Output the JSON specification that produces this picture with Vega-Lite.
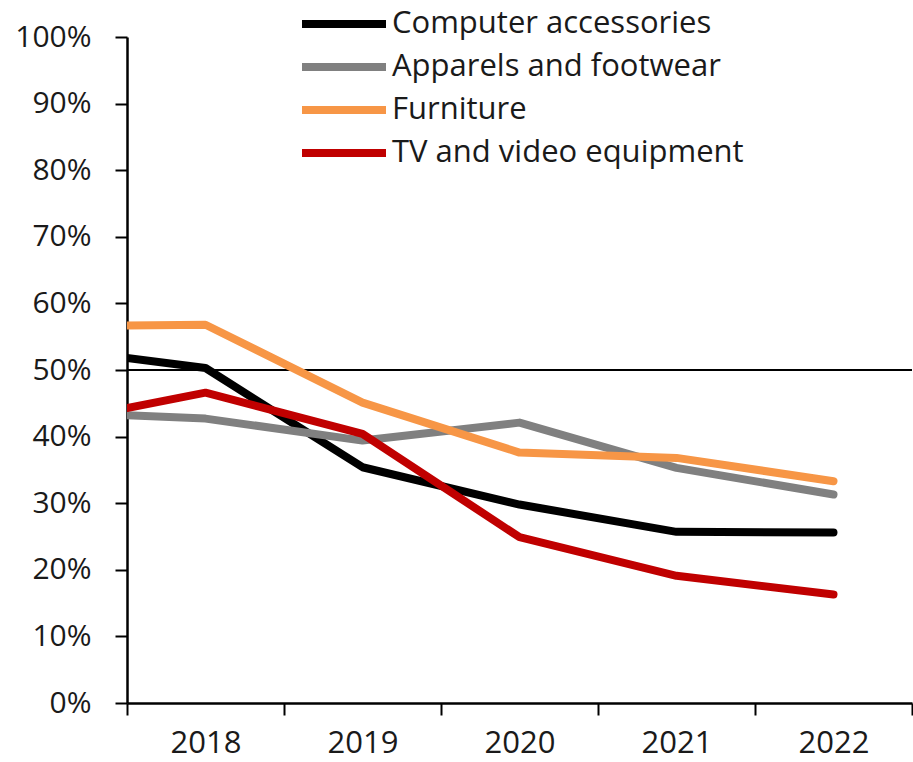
{
  "$schema": "https://vega.github.io/schema/vega-lite/v6.json",
  "width": 785,
  "height": 666,
  "autosize": {"type": "none"},
  "padding": {"left": 127, "top": 37, "right": 1, "bottom": 59},
  "background": "white",
  "config": {
    "view": {"stroke": null},
    "font": "Open Sans",
    "axis": {"grid": false, "domainColor": "black", "tickColor": "black", "labelColor": "#1a1a1a", "labelFont": "Open Sans", "title": null}
  },
  "data": {
    "values": [
      {"year": 2017.5, "series": "Computer accessories", "v": 0.518},
      {"year": 2018, "series": "Computer accessories", "v": 0.503},
      {"year": 2019, "series": "Computer accessories", "v": 0.354},
      {"year": 2020, "series": "Computer accessories", "v": 0.298},
      {"year": 2021, "series": "Computer accessories", "v": 0.257},
      {"year": 2022, "series": "Computer accessories", "v": 0.256},
      {"year": 2017.5, "series": "Apparels and footwear", "v": 0.432},
      {"year": 2018, "series": "Apparels and footwear", "v": 0.427},
      {"year": 2019, "series": "Apparels and footwear", "v": 0.394},
      {"year": 2020, "series": "Apparels and footwear", "v": 0.421},
      {"year": 2021, "series": "Apparels and footwear", "v": 0.353},
      {"year": 2022, "series": "Apparels and footwear", "v": 0.313},
      {"year": 2017.5, "series": "Furniture", "v": 0.567},
      {"year": 2018, "series": "Furniture", "v": 0.568},
      {"year": 2019, "series": "Furniture", "v": 0.451},
      {"year": 2020, "series": "Furniture", "v": 0.376},
      {"year": 2021, "series": "Furniture", "v": 0.368},
      {"year": 2022, "series": "Furniture", "v": 0.333},
      {"year": 2017.5, "series": "TV and video equipment", "v": 0.443},
      {"year": 2018, "series": "TV and video equipment", "v": 0.466},
      {"year": 2019, "series": "TV and video equipment", "v": 0.404},
      {"year": 2020, "series": "TV and video equipment", "v": 0.249},
      {"year": 2021, "series": "TV and video equipment", "v": 0.191},
      {"year": 2022, "series": "TV and video equipment", "v": 0.163}
    ]
  },
  "layer": [
    {
      "mark": {"type": "rule", "color": "black", "strokeWidth": 2},
      "encoding": {"y": {"datum": 0.5, "type": "quantitative", "scale": {"domain": [0, 1]}}}
    },
    {
      "mark": {"type": "line", "strokeWidth": 8, "strokeCap": "round", "strokeJoin": "round", "clip": true},
      "encoding": {
        "x": {
          "field": "year", "type": "quantitative",
          "scale": {"domain": [2017.5, 2022.5], "nice": false, "zero": false},
          "axis": {
            "values": [2017.5, 2018, 2018.5, 2019, 2019.5, 2020, 2020.5, 2021, 2021.5, 2022, 2022.5],
            "labelExpr": "datum.value % 1 == 0 ? format(datum.value, 'd') : ''",
            "tickOpacity": {"condition": {"test": "datum.value % 1 == 0", "value": 0}, "value": 1},
            "labelOverlap": false,
            "labelFlush": false,
            "labelFontSize": 31,
            "labelPadding": 13,
            "tickSize": 12,
            "tickWidth": 2,
            "domainWidth": 2.5
          }
        },
        "y": {
          "field": "v", "type": "quantitative",
          "scale": {"domain": [0, 1], "nice": false},
          "axis": {
            "values": [0, 0.1, 0.2, 0.3, 0.4, 0.5, 0.6, 0.7, 0.8, 0.9, 1],
            "format": ".0%",
            "labelFontSize": 30,
            "labelPadding": 24,
            "tickSize": 12,
            "tickWidth": 2,
            "domainWidth": 2.5
          }
        },
        "color": {
          "field": "series", "type": "nominal",
          "scale": {
            "domain": ["Computer accessories", "Apparels and footwear", "Furniture", "TV and video equipment"],
            "range": ["#000000", "#808080", "#F79646", "#C00000"]
          },
          "legend": {
            "title": null,
            "orient": "none",
            "legendX": 171,
            "legendY": -28,
            "symbolType": "stroke",
            "symbolSize": 7056,
            "symbolStrokeWidth": 8,
            "clipHeight": 30,
            "rowPadding": 12,
            "labelOffset": 2,
            "labelFontSize": 31,
            "labelFont": "Open Sans",
            "labelColor": "#1a1a1a",
            "labelLimit": 600
          }
        }
      }
    }
  ]
}
